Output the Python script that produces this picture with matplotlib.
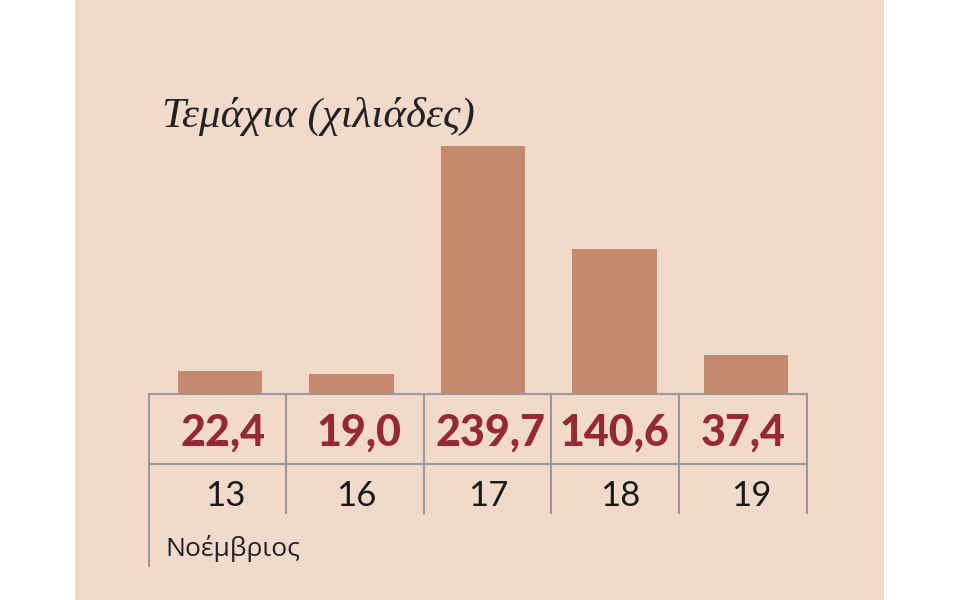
import matplotlib.pyplot as plt
from matplotlib.patches import Rectangle
from matplotlib.transforms import blended_transform_factory

days = ["13", "16", "17", "18", "19"]
pieces = [22.4, 19.0, 239.7, 140.6, 37.4]
value_labels = ["22,4", "19,0", "239,7", "140,6", "37,4"]
title = "Τεμάχια (χιλιάδες)"
month = "Νοέμβριος"

bg = "#f2dacb"
bar_color = "#c48a6d"
val_color = "#962a30"
line_color = "#9a9a9a"

W, H = 960, 600
fig = plt.figure(figsize=(W / 100, H / 100), dpi=100)
fig.patch.set_facecolor("white")
fig.patches.append(Rectangle((75 / W, 0), (884 - 75) / W, 1, transform=fig.transFigure,
                             facecolor=bg, edgecolor="none", zorder=-5))

# bar axes, pixel placement
left, width = 154.25, 657.5
base, hpx = 394, 258.7
ax = fig.add_axes([left / W, (H - base) / H, width / W, hpx / H])
ax.set_xlim(-0.5, 4.5)
ax.set_ylim(0, 250)
ax.axis("off")
x = range(len(days))
ax.bar(x, pieces, width=0.64, color=bar_color, zorder=2)

# overlay axes in pixel coords for table lines and text
ov = fig.add_axes([0, 0, 1, 1])
ov.set_xlim(0, W)
ov.set_ylim(H, 0)
ov.axis("off")
ov.patch.set_alpha(0)

cols = [149, 286, 424, 551, 679, 807]
ov.plot([149, 806], [394, 394], color=line_color, lw=1.5)
ov.plot([149, 806], [464, 464], color=line_color, lw=1.5)
for c in cols:
    ov.plot([c, c], [394, 513], color=line_color, lw=1.5)
ov.plot([149, 149], [513, 566], color=line_color, lw=1.5)

tr = blended_transform_factory(ax.transData, ov.transData)
offs = [0.02, 0.06, 0.06, 0.0, -0.02]
for i, v in enumerate(value_labels):
    ov.text(i + offs[i], 433, v, transform=tr, ha="center", va="center",
            fontsize=31, fontweight="black", color=val_color, family="Lato")
for i, d in enumerate(days):
    ov.text(i + 0.04, 496, d, transform=tr, ha="center", va="center",
            fontsize=25, color="#1a1a1a", family="Lato")

ov.text(165, 549, month, ha="left", va="center", fontsize=19,
        color="#222222", family="Open Sans")
ov.text(162, 127, title, ha="left", va="baseline", fontsize=31, style="italic",
        color="#222222", family="Liberation Serif")

fig.savefig("out.png", dpi=100)
